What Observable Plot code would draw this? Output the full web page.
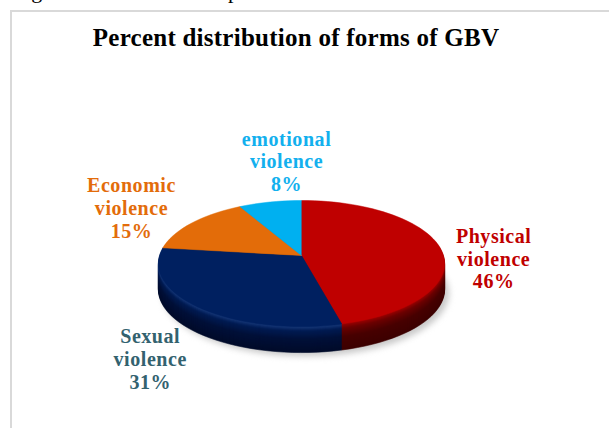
<!DOCTYPE html>
<html>
<head>
<meta charset="utf-8">
<script src="https://cdn.jsdelivr.net/npm/d3@7"></script>
<script src="https://cdn.jsdelivr.net/npm/@observablehq/plot@0.6"></script>
<style>
  html, body { margin: 0; padding: 0; background: #fff; width: 609px; height: 428px; overflow: hidden; }
  #wrap { position: relative; width: 609px; height: 428px; overflow: hidden; font-family: "Liberation Serif", serif; }
  #frame { position: absolute; left: 10px; top: 10px; right: -5px; bottom: -5px; border-left: 2px solid #d9d9d9; border-top: 2px solid #d9d9d9; }
  #title { position: absolute; left: 0; top: 24px; width: 592px; text-align: center; font-weight: bold; font-size: 25px; line-height: 28px; color: #000; letter-spacing: 0.25px; }
  .cut { position: absolute; font-size: 22px; line-height: 22px; color: #000; }
  svg { position: absolute; left: 0; top: 0; }
</style>
</head>
<body>
<div id="wrap">
  <div class="cut" style="left:13px;top:-20px">Fig</div>
  <div class="cut" style="left:228px;top:-20px">p</div>
  <div id="chart"></div>
  <div id="frame"></div>
  <div id="title">Percent distribution of forms of GBV</div>
</div>
<script>
// Data, clockwise from twelve o'clock
const forms = ["Physical violence", "Sexual violence", "Economic violence", "emotional violence"];
const percents = [46, 31, 15, 8];

// Styles
const faceColors = ["#bf0000", "#002060", "#e36c09", "#00b0f0"];
const labelColors = ["#c00000", "#33626f", "#e36c0a", "#12b0ee"];
const wallStops = [
  ["#9c0000", "#6a0000", "#480000", "#3c0000"],
  ["#17387a", "#001b52", "#001038", "#000b2a"],
  ["#b05000", "#803800", "#602800", "#502000"],
  ["#0090c8", "#006890", "#005070", "#004060"]
];
const labelOffsets = [[53.5, 10.5], [-47.5, 52], [-60.4, -15.5], [16.5, -41]];

// Pie geometry: unit circle seen in perspective, in pie units
const tilt = 0.127, depth = 0.42, layers = 26;
const project = (deg, r = 1, t = 0) => {
  const a = deg * Math.PI / 180, u = r * Math.sin(a), v = r * Math.cos(a), s = 1 / (1 + tilt * v);
  return {x: u * s, y: v * s - t * depth};
};
const total = d3.sum(percents);
let acc = 0;
const slices = forms.map((form, i) => {
  const start = acc / total * 360; acc += percents[i];
  const end = acc / total * 360;
  return {form, i, start, end, mid: (start + end) / 2, pct: percents[i]};
});
const polygon = (s, t, key, fill) => {
  const n = Math.max(2, Math.ceil((s.end - s.start) / 3));
  const pts = [{...project(0, 0, t), key, fill}];
  for (let k = 0; k <= n; k++) pts.push({...project(s.start + (s.end - s.start) * k / n, 1, t), key, fill});
  return pts;
};
const wallRows = [];
slices.forEach(s => s.ramp = d3.scaleLinear([0, 0.18, 0.5, 1], wallStops[s.i]));
for (let l = layers; l >= 1; l--) {
  const t = l / layers;
  slices.forEach(s => wallRows.push(...polygon(s, t, `w${l}-${s.i}`, s.ramp(t))));
}
const faceRows = slices.flatMap(s => polygon(s, 0, `f${s.i}`, faceColors[s.i]));
const shadowRows = d3.range(0, 361, 3).map(a => {
  const p = project(a, 1.0, 1.14);
  return {x: p.x + 0.03, y: p.y};
});
const labelRows = slices.map(s => ({
  ...project(s.mid),
  text: s.form.replace(" ", "\n") + `\n${s.pct}%`,
  color: labelColors[s.i], i: s.i
}));

const plot = Plot.plot({
  width: 609, height: 428,
  margin: 0,
  x: {domain: [-1, 1], range: [301 - 142, 301 + 142], axis: null},
  y: {domain: [-1, 1], range: [255 + 62, 255 - 62], axis: null},
  color: {type: "identity"},
  style: {background: "transparent", fontFamily: "'Liberation Serif', serif", letterSpacing: "0.55px", overflow: "hidden"},
  marks: [
    Plot.line(shadowRows, {x: "x", y: "y", fill: "#c8c8c8", stroke: null, imageFilter: "blur(3px)"}),
    Plot.line(wallRows, {x: "x", y: "y", z: "key", fill: "fill", stroke: "fill", strokeWidth: 0.6}),
    Plot.line(faceRows, {x: "x", y: "y", z: "key", fill: "fill", stroke: "fill", strokeWidth: 0.5}),
    ...labelRows.map(d => Plot.text([d], {
      x: "x", y: "y", text: "text", fill: "color",
      dx: labelOffsets[d.i][0], dy: labelOffsets[d.i][1],
      fontSize: 20, fontWeight: "bold", lineHeight: 1.14, textAnchor: "middle"
    }))
  ]
});
document.getElementById("chart").append(plot);
</script>
</body>
</html>
